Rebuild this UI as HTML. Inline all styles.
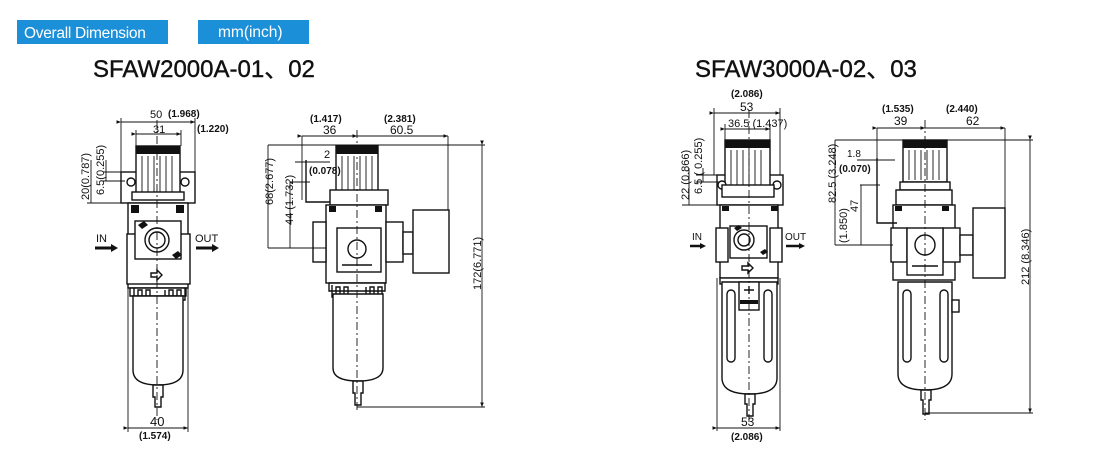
<!DOCTYPE html>
<html><head><meta charset="utf-8"><style>
html,body{margin:0;padding:0;background:#fff;width:1100px;height:460px;overflow:hidden}
svg{display:block}
text{font-family:"Liberation Sans",Arial,sans-serif;fill:#111}
.s{fill:none;stroke:#111;stroke-width:1.4}
.f{fill:#fff;stroke:#111;stroke-width:1.4}
.t{stroke:#111;stroke-width:0.9;fill:none}
.k{fill:#111}
.d{font-size:11px}
.b{font-size:10px;font-weight:bold}
</style></head><body>
<svg width="1100" height="460" viewBox="0 0 1100 460" xmlns="http://www.w3.org/2000/svg">
<defs>
<marker id="a" markerWidth="6" markerHeight="6" refX="5" refY="3" orient="auto"><path d="M0,1 L5,3 L0,5 z" fill="#111"/></marker>
</defs>
<rect x="17" y="20" width="151" height="24" fill="#1b8fd8"/>
<text x="24" y="38" font-size="15.5" style="fill:#fff;letter-spacing:-0.3px">Overall Dimension</text>
<rect x="198" y="20" width="111" height="24" fill="#1b8fd8"/>
<text x="218" y="37" font-size="15.5" style="fill:#fff">mm(inch)</text>
<text x="93" y="77" font-size="24" stroke="#111" stroke-width="0.4">SFAW2000A-01、02</text>
<text x="695" y="77" font-size="24" stroke="#111" stroke-width="0.4">SFAW3000A-02、03</text>

<g>
<rect class="f" x="121" y="172" width="74" height="31"/>
<rect class="f" x="136" y="146" width="44" height="50"/>
<rect class="k" x="136" y="146" width="44" height="8"/>
<path class="t" d="M142,156V194M148,156V194M154,156V194M160,156V194M166,156V194M172,156V194"/>
<circle class="f" cx="131" cy="182" r="4"/><circle class="f" cx="185" cy="182" r="4"/>
<rect class="f" x="132" y="192" width="52" height="8"/>
<rect class="f" x="128" y="203" width="60" height="85"/>
<rect class="k" x="131" y="205" width="8" height="8"/><rect class="k" x="176" y="205" width="8" height="8"/>
<rect class="f" x="127" y="234" width="63" height="50"/>
<rect class="f" x="135" y="221" width="46" height="38"/>
<circle class="f" cx="157" cy="240" r="12"/><circle class="s" cx="157" cy="240" r="8"/>
<path class="k" d="M138,225l6,-4 4,4 -6,4z M172,255l6,-4 4,4 -6,4z"/>
<path class="s" d="M151,273h6v-3l5,5 -5,5v-3h-6z"/>
<path class="f" d="M130,288h56v8h-56z"/>
<path class="s" d="M134,288v12h4v-10h4v10h4v-10h4v10M165,290v10h4v-10h4v10h4v-10h4v10h4v-12"/>
<path class="f" d="M133,296h50v74q0,15 -25,15q-25,0 -25,-15z"/>
<path class="f" d="M153,385h10v12h-2v10h-6v-10h-2z"/>
<path class="t" d="M157,120V420" stroke-dasharray="8,3,2,3"/>
<path class="t" d="M121,172V118M195,172V118M136,146V130M181,146V130"/>
<path class="t" d="M121,122H195" marker-start="url(#a)" marker-end="url(#a)"/>
<path class="t" d="M136,134H181" marker-start="url(#a)" marker-end="url(#a)"/>
<text class="d" x="150" y="118" font-size="13">50</text><text class="b" x="168" y="117">(1.968)</text>
<text class="d" x="153" y="133" font-size="12">31</text><text class="b" x="197" y="132">(1.220)</text>
<path class="t" d="M87,203H128M103,172H125M103,181H125"/>
<path class="t" d="M91,203V160M106,181V160"/>
<text class="d" transform="translate(89,200) rotate(-90)" font-size="11">20(0.787)</text>
<text class="d" transform="translate(104,195) rotate(-90)" font-size="11">6.5(0.255)</text>
<text x="96" y="242" font-size="11">IN</text>
<path d="M95,248H112" stroke="#111" stroke-width="3"/><path class="k" d="M111,244l7,4 -7,4z"/>
<text x="195" y="242" font-size="11">OUT</text>
<path d="M196,248H213" stroke="#111" stroke-width="3"/><path class="k" d="M212,244l7,4 -7,4z"/>
<path class="t" d="M128,288V432M188,288V432"/>
<path class="t" d="M128,428H188" marker-start="url(#a)" marker-end="url(#a)"/>
<text x="150" y="426" font-size="13">40</text><text class="b" x="139" y="439">(1.574)</text>
</g>

<g>
<rect class="f" x="336" y="146" width="42" height="46"/>
<rect class="k" x="336" y="146" width="42" height="8"/>
<path class="t" d="M342,156V190M348,156V190M354,156V190M360,156V190M366,156V190M372,156V190"/>
<rect class="f" x="330" y="190" width="58" height="15"/>
<rect class="f" x="326" y="205" width="60" height="78"/>
<rect class="k" x="329" y="206" width="7" height="6"/><rect class="k" x="375" y="206" width="7" height="6"/>
<rect class="f" x="313" y="222" width="13" height="40"/><rect class="f" x="386" y="222" width="17" height="40"/>
<rect class="f" x="337" y="228" width="44" height="44"/>
<circle class="f" cx="357" cy="249" r="9"/>
<path class="s" d="M342,265h30"/>
<rect class="f" x="403" y="232" width="10" height="22"/>
<rect class="f" x="413" y="210" width="36" height="63"/>
<path class="s" d="M306,160v42h24"/>
<path class="f" d="M329,283h56v8h-56z"/>
<path class="s" d="M332,285v12h4v-10h4v10h4v-10h4v10M366,287v10h4v-10h4v10h4v-10h4v10"/>
<path class="f" d="M333,294h50v74q0,13 -25,13q-25,0 -25,-13z"/>
<path class="f" d="M353,381h10v12h-2v12h-6v-12h-2z"/>
<path class="t" d="M357,130V410" stroke-dasharray="8,3,2,3"/>
<path class="t" d="M302,136V200M448,136V210"/>
<path class="t" d="M302,136H357" marker-start="url(#a)" marker-end="url(#a)"/>
<path class="t" d="M357,136H448" marker-start="url(#a)" marker-end="url(#a)"/>
<text class="b" x="310" y="122">(1.417)</text><text x="323" y="134" font-size="12">36</text>
<text class="b" x="384" y="122">(2.381)</text><text x="390" y="134" font-size="12">60.5</text>
<path class="t" d="M268,145H485M357,407H485M268,248H326M290,182H310M295,162H330"/>
<path class="t" d="M482,145V407" marker-start="url(#a)" marker-end="url(#a)"/>
<path class="t" d="M268,145V248M290,182V248"/>
<text transform="translate(481,290) rotate(-90)" font-size="11">172(6.771)</text>
<text transform="translate(273,205) rotate(-90)" font-size="11">68(2.677)</text>
<text transform="translate(293,225) rotate(-90)" font-size="11">44 (1.732)</text>
<text x="324" y="158" font-size="11">2</text><text class="b" x="309" y="174">(0.078)</text>
</g>

<g>
<rect class="f" x="717" y="175" width="66" height="30"/>
<rect class="f" x="725" y="140" width="45" height="47"/>
<rect class="k" x="725" y="140" width="45" height="8"/>
<path class="t" d="M731,150V186M737,150V186M743,150V186M749,150V186M755,150V186M761,150V186"/>
<circle class="f" cx="722" cy="185" r="4"/><circle class="f" cx="777" cy="185" r="4"/>
<rect class="f" x="722" y="185" width="52" height="12"/>
<rect class="f" x="720" y="205" width="58" height="73"/>
<rect class="k" x="722" y="206" width="7" height="5"/><rect class="k" x="771" y="206" width="7" height="5"/>
<rect class="f" x="716" y="228" width="12" height="34"/><rect class="f" x="770" y="228" width="12" height="34"/>
<rect class="f" x="730" y="226" width="37" height="32"/>
<circle class="f" cx="744" cy="240" r="10"/><circle class="s" cx="744" cy="240" r="6"/>
<path class="k" d="M734,228l5,-3 3,3 -5,3z M760,252l5,-3 3,3 -5,3z"/>
<path class="s" d="M742,266h6v-3l5,5 -5,5v-3h-6z"/>
<rect class="f" x="720" y="278" width="58" height="6"/>
<path class="f" d="M722,282h55v96q0,16 -27,16q-28,0 -28,-16z"/>
<rect class="s" x="727" y="290" width="8" height="72" rx="4"/>
<rect class="s" x="764" y="290" width="8" height="72" rx="4"/>
<rect class="f" x="739" y="282" width="20" height="28"/>
<path class="s" d="M744,290h10M749,286v8"/>
<rect class="k" x="740" y="300" width="18" height="4"/>
<path class="f" d="M745,394h10v10h-2v12h-6v-12h-2z"/>
<path class="t" d="M749,110V425" stroke-dasharray="8,3,2,3"/>
<path class="t" d="M714,175V108M780,175V108M725,140V124M770,140V124"/>
<path class="t" d="M714,113H780" marker-start="url(#a)" marker-end="url(#a)"/>
<path class="t" d="M725,129H770" marker-start="url(#a)" marker-end="url(#a)"/>
<text class="b" x="731" y="97">(2.086)</text><text x="740" y="111" font-size="12">53</text>
<text x="728" y="127" font-size="11">36.5 (1.437)</text>
<path class="t" d="M682,205H720M696,175H720M696,182H720"/>
<path class="t" d="M689,205V168M703,182V168"/>
<text transform="translate(689,200) rotate(-90)" font-size="11">22 (0.866)</text>
<text transform="translate(702,194) rotate(-90)" font-size="11">6.5 ( 0.255)</text>
<text x="692" y="240" font-size="10">IN</text>
<path d="M690,246H701" stroke="#111" stroke-width="2.5"/><path class="k" d="M700,243l6,3 -6,3z"/>
<text x="785" y="240" font-size="10">OUT</text>
<path d="M786,246H800" stroke="#111" stroke-width="2.5"/><path class="k" d="M799,243l6,3 -6,3z"/>
<path class="t" d="M717,278V431M780,278V431"/>
<path class="t" d="M717,428H780" marker-start="url(#a)" marker-end="url(#a)"/>
<text x="741" y="426" font-size="12">53</text><text class="b" x="731" y="440">(2.086)</text>
</g>

<g>
<rect class="f" x="903" y="140" width="44" height="42"/>
<rect class="k" x="903" y="140" width="44" height="8"/>
<path class="t" d="M909,150V180M915,150V180M921,150V180M927,150V180M933,150V180M939,150V180"/>
<rect class="f" x="900" y="182" width="50" height="8"/>
<rect class="f" x="896" y="190" width="56" height="15"/>
<rect class="f" x="893" y="205" width="62" height="75"/>
<rect class="k" x="895" y="206" width="7" height="5"/><rect class="k" x="942" y="206" width="7" height="5"/>
<rect class="f" x="891" y="228" width="16" height="34"/><rect class="f" x="943" y="228" width="17" height="34"/>
<rect class="f" x="907" y="228" width="36" height="47"/>
<circle class="f" cx="925" cy="245" r="10"/>
<path class="s" d="M912,266h26"/>
<rect class="f" x="960" y="235" width="13" height="20"/>
<rect class="f" x="973" y="208" width="32" height="70"/>
<path class="s" d="M877,158v65h20"/>
<path class="f" d="M898,282h54v92q0,16 -27,16q-27,0 -27,-16z"/>
<rect class="s" x="903" y="290" width="8" height="72" rx="4"/>
<rect class="s" x="940" y="290" width="8" height="72" rx="4"/>
<rect class="f" x="952" y="300" width="7" height="12"/>
<path class="f" d="M921,390h10v10h-2v14h-6v-14h-2z"/>
<path class="t" d="M925,120V420" stroke-dasharray="8,3,2,3"/>
<path class="t" d="M877,128V185M1005,128V208"/>
<path class="t" d="M877,128H925" marker-start="url(#a)" marker-end="url(#a)"/>
<path class="t" d="M925,128H1005" marker-start="url(#a)" marker-end="url(#a)"/>
<text class="b" x="882" y="112">(1.535)</text><text x="894" y="125" font-size="12">39</text>
<text class="b" x="946" y="112">(2.440)</text><text x="966" y="125" font-size="12">62</text>
<path class="t" d="M835,140H1033M925,413H1033M835,245H893M860,185H880M857,160H895"/>
<path class="t" d="M1030,140V413" marker-start="url(#a)" marker-end="url(#a)"/>
<path class="t" d="M835,140V245M861,185V245"/>
<text transform="translate(1029,285) rotate(-90)" font-size="11">212 (8.346)</text>
<text transform="translate(836,203) rotate(-90)" font-size="11">82.5 (3.248)</text>
<text transform="translate(847,243) rotate(-90)" font-size="11">(1.850)</text>
<text transform="translate(858,212) rotate(-90)" font-size="11">47</text>
<text x="847" y="157" font-size="10">1.8</text><text class="b" x="839" y="172">(0.070)</text>
</g>
</svg>
</body></html>
